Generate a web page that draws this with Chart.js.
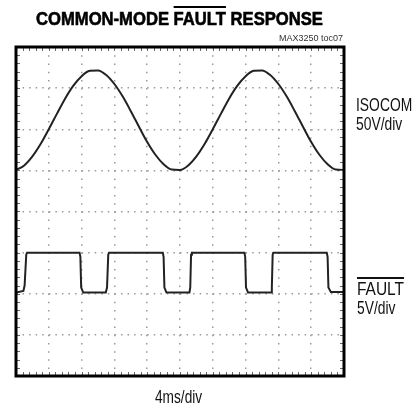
<!DOCTYPE html>
<html>
<head>
<meta charset="utf-8">
<script src="https://cdn.jsdelivr.net/npm/chart.js@4.4.0/dist/chart.umd.min.js"></script>
<style>
  html, body { margin: 0; padding: 0; background: #fff; }
  #wrap { position: relative; width: 417px; height: 409px; overflow: hidden; }
  #wrap canvas { position: absolute; left: 0; top: 0; }
  .txt { position: absolute; font-family: "Liberation Sans", Arial, sans-serif; color: #111; white-space: nowrap; line-height: 1; }
  .title { left: 0; width: 359px; top: 9px; font-size: 19px; font-weight: bold; text-align: center; color: #000;
           -webkit-text-stroke: 0.6px #000; transform: scaleX(0.875); transform-origin: 179.5px 50%; }
  .ovl { text-decoration: overline; text-decoration-thickness: 1.5px; }
  .note { right: 74px; top: 34px; font-size: 9px; color: #333; }
  .lbl { font-size: 18px; transform: scaleX(0.77); transform-origin: 0 50%; }
</style>
</head>
<body>
<div id="wrap">
  <canvas id="scope" width="417" height="409"></canvas>
  <div class="txt title">COMMON-MODE <span class="ovl">FAULT</span> RESPONSE</div>
  <div class="txt note">MAX3250 toc07</div>
  <div class="txt lbl" style="left:356px;top:96px">ISOCOM</div>
  <div class="txt lbl" style="left:356px;top:115px">50V/div</div>
  <div class="txt lbl" style="left:357px;top:280px;transform:scaleX(0.86)"><span class="ovl">FAULT</span></div>
  <div class="txt lbl" style="left:357px;top:299px">5V/div</div>
  <div class="txt lbl" style="left:155px;top:388px;transform:scaleX(0.76)">4ms/div</div>
</div>
<script>
// time in ms (4ms/div, 10 div), levels in screen divisions (-4..4)
const isoTime = [0, 1, 2, 3, 4, 5, 6, 7, 8, 9, 10, 11, 12, 13, 14, 15, 16, 17, 18, 19, 20,
                 21, 22, 23, 24, 25, 26, 27, 28, 29, 30, 31, 32, 33, 34, 35, 36, 37, 38, 39, 40];
const isoLevel = [1.01, 1.12, 1.34, 1.64, 2.00, 2.38, 2.75, 3.06, 3.29, 3.42, 3.43, 3.32, 3.10, 2.80, 2.44, 2.06, 1.69, 1.38, 1.15, 1.02, 1.01,
                  1.12, 1.34, 1.64, 2.00, 2.38, 2.75, 3.06, 3.29, 3.42, 3.43, 3.32, 3.10, 2.80, 2.44, 2.06, 1.69, 1.38, 1.15, 1.02, 1.01];

const faultTime = [0, 0.9, 1.05, 1.25, 1.35, 7.75, 7.85, 7.95, 8.2, 10.95, 11.1, 11.25, 11.35,
                   17.9, 18.0, 18.1, 18.35, 21.15, 21.25, 21.35, 21.45,
                   27.85, 27.95, 28.05, 28.3, 31.1, 31.2, 31.3, 31.4,
                   37.9, 38.0, 38.1, 38.4, 40];
const faultLevel = [-1.97, -1.93, -1.8, -1.05, -1.0, -1.0, -1.1, -1.85, -1.97, -1.97, -1.85, -1.05, -1.0,
                    -1.0, -1.1, -1.85, -1.97, -1.97, -1.85, -1.05, -1.0,
                    -1.0, -1.1, -1.85, -1.97, -1.97, -1.85, -1.05, -1.0,
                    -1.0, -1.1, -1.85, -1.96, -1.96];

const xTicks = [0, 4, 8, 12, 16, 20, 24, 28, 32, 36, 40];
const yTicks = [-4, -3, -2, -1, 0, 1, 2, 3, 4];

const toPoints = (xs, ys) => xs.map((x, i) => ({ x, y: ys[i] }));

// frame and minor ticks like the scope graticule
const graticule = {
    id: 'graticule',
    afterDatasetsDraw(chart) {
        const { ctx, chartArea: a, scales: { x, y } } = chart;
        ctx.save();
        ctx.strokeStyle = '#666';
        ctx.lineWidth = 1;
        ctx.beginPath();
        for (let t = 0; t <= 40.001; t += 0.8) {
            const px = Math.round(x.getPixelForValue(t)) + 0.5;
            ctx.moveTo(px, a.top); ctx.lineTo(px, a.top + 4);
            ctx.moveTo(px, a.bottom); ctx.lineTo(px, a.bottom - 4);
        }
        for (let v = -4; v <= 4.001; v += 0.2) {
            const py = Math.round(y.getPixelForValue(v)) + 0.5;
            ctx.moveTo(a.left, py); ctx.lineTo(a.left + 4, py);
            ctx.moveTo(a.right, py); ctx.lineTo(a.right - 4, py);
        }
        ctx.stroke();
        ctx.strokeStyle = '#000';
        ctx.lineWidth = 3;
        ctx.strokeRect(a.left, a.top, a.right - a.left, a.bottom - a.top);
        ctx.restore();
    }
};

new Chart(document.getElementById('scope'), {
    type: 'line',
    data: {
        datasets: [{
            label: 'ISOCOM',
            data: toPoints(isoTime, isoLevel),
            borderColor: '#222',
            borderWidth: 2,
            pointRadius: 0,
            cubicInterpolationMode: 'monotone',
            fill: false,
        }, {
            label: 'FAULT',
            data: toPoints(faultTime, faultLevel),
            borderColor: '#222',
            borderWidth: 2,
            pointRadius: 0,
            tension: 0,
            fill: false,
        }]
    },
    options: {
        responsive: false,
        animation: false,
        events: [],
        layout: { autoPadding: false, padding: { left: 16, top: 47, right: 73, bottom: 33 } },
        plugins: { legend: { display: false }, tooltip: { enabled: false } },
        scales: {
            x: {
                type: 'linear', min: 0, max: 40,
                afterBuildTicks: s => { s.ticks = xTicks.map(v => ({ value: v })); },
                ticks: { display: false },
                grid: { color: '#9a9a9a', lineWidth: 1.5, drawTicks: false },
                border: { display: false, dash: [1.5, 6.72] }
            },
            y: {
                type: 'linear', min: -4, max: 4,
                afterBuildTicks: s => { s.ticks = yTicks.map(v => ({ value: v })); },
                ticks: { display: false },
                grid: { color: '#9a9a9a', lineWidth: 1.5, drawTicks: false },
                border: { display: false, dash: [1.5, 5.06] }
            }
        }
    },
    plugins: [graticule]
});
</script>
</body>
</html>
